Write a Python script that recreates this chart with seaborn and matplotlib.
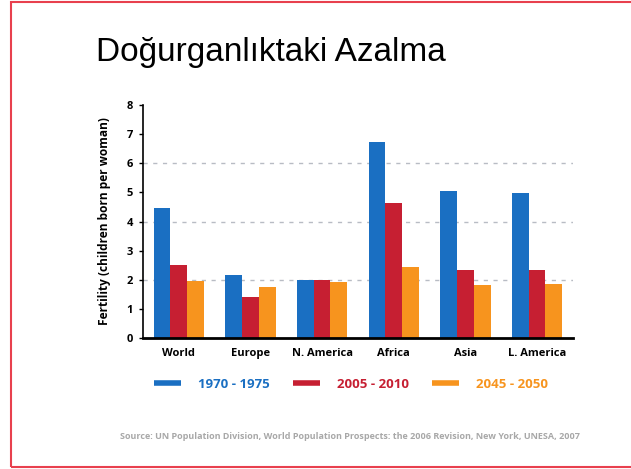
import matplotlib
matplotlib.use("Agg")
import matplotlib.pyplot as plt
import seaborn as sns
import pandas as pd
from matplotlib.lines import Line2D
from matplotlib.patches import Rectangle

# data
regions = ["World", "Europe", "N. America", "Africa", "Asia", "L. America"]
periods = ["1970 - 1975", "2005 - 2010", "2045 - 2050"]
fert_1970 = [4.45, 2.15, 2.0, 6.72, 5.05, 4.98]
fert_2005 = [2.52, 1.42, 2.0, 4.65, 2.33, 2.35]
fert_2045 = [1.97, 1.75, 1.92, 2.45, 1.83, 1.84]
colors = ["#1a6fc2", "#c61f32", "#f7941e"]

df = pd.DataFrame({
    "region": regions * 3,
    "period": [periods[0]] * 6 + [periods[1]] * 6 + [periods[2]] * 6,
    "fertility": fert_1970 + fert_2005 + fert_2045,
})

sns.set_style("white")
plt.rcParams['font.family'] = ['Open Sans', 'DejaVu Sans']
plt.rcParams['text.color'] = 'black'
plt.rcParams['xtick.color'] = 'black'
plt.rcParams['ytick.color'] = 'black'
plt.rcParams['axes.labelcolor'] = 'black'

fig = plt.figure(figsize=(6.31, 4.69), dpi=100)
ax = fig.add_axes([0.2266, 0.2793, 0.6814, 0.4968])

sns.barplot(data=df, x="region", y="fertility", hue="period",
            palette=colors, width=0.7, saturation=1, legend=False,
            linewidth=0, edgecolor="none", ax=ax)

ax.set_ylim(0, 8)
ax.set_xlim(-0.5, 5.5)
ax.set_yticks(range(0, 9))
for y in [2, 4, 6]:
    ax.axhline(y, color="#b8bcc4", lw=1, ls=(0, (3, 4)), zorder=0)

ax.set_xlabel("")
ax.set_ylabel("Fertility (children born per woman)", fontsize=8.6,
              fontweight="bold", labelpad=11)
ax.tick_params(axis="y", length=3, width=1, color="black", pad=4,
               labelsize=8, left=True)
ax.tick_params(axis="x", length=0, pad=7, labelsize=8)
for lab in ax.get_xticklabels() + ax.get_yticklabels():
    lab.set_fontweight("bold")

sns.despine(ax=ax)
ax.spines["left"].set_color("black")
ax.spines["left"].set_linewidth(1.2)
ax.spines["bottom"].set_color("black")
ax.spines["bottom"].set_linewidth(2)

# legend with short thick lines and coloured text
handles = [Line2D([0], [0], color=c, lw=4, solid_capstyle="butt") for c in colors]
leg = fig.legend(handles, periods, loc="center", bbox_to_anchor=(0.556, 0.181),
                 ncol=3, frameon=False, handlelength=2.05, handletextpad=1.3,
                 columnspacing=1.75, prop={"weight": "bold", "size": 9.5})
for txt, c in zip(leg.get_texts(), colors):
    txt.set_color(c)

fig.text(0.43, 0.888, "Doğurganlıktaki Azalma", ha="center", va="center",
         fontsize=24, color="black", family=["Liberation Sans", "DejaVu Sans"])
fig.text(0.555, 0.07, "Source: UN Population Division, World Population Prospects: the 2006 Revision, "
         "New York, UNESA, 2007", ha="center", va="center", fontsize=6.5,
         color="#a8a8a8", fontweight="bold")

fig.patches.append(Rectangle((11 / 631, 2 / 469), 1.2, 465 / 469,
                             transform=fig.transFigure, fill=False,
                             edgecolor="#e8404e", lw=1.5))

fig.savefig("out.png", dpi=100)
